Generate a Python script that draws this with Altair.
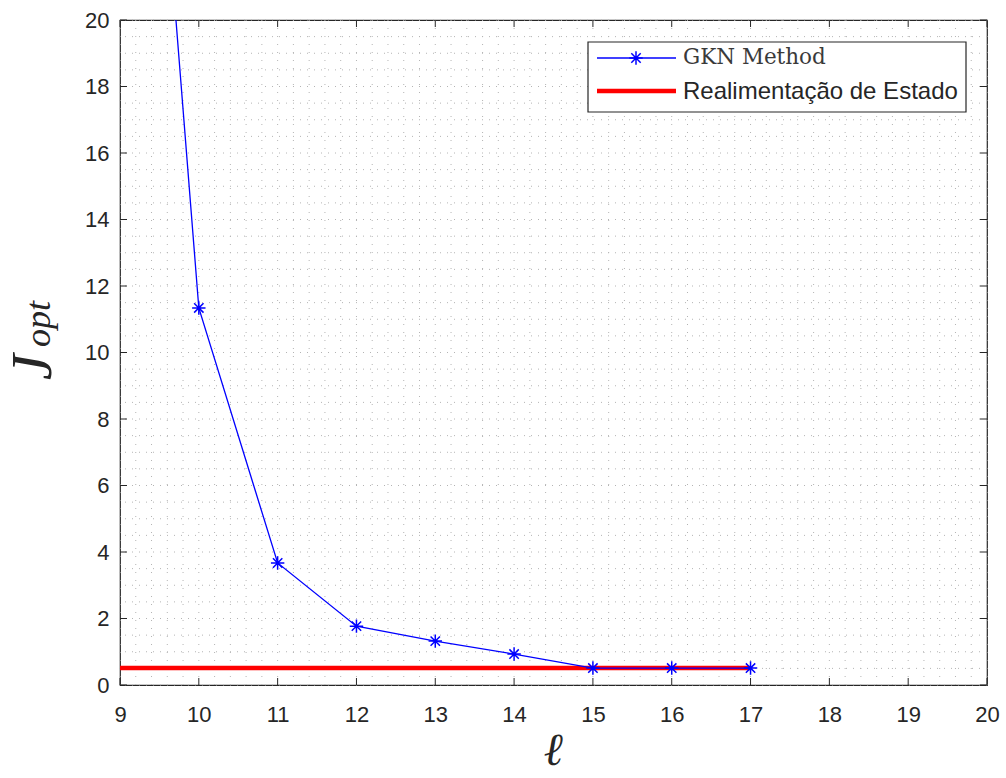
import altair as alt
import numpy as np
import pandas as pd

# ---- data ----
ell = [9, 10, 11, 12, 13, 14, 15, 16, 17]
j_opt = [41.2, 11.34, 3.67, 1.77, 1.32, 0.93, 0.51, 0.51, 0.51]
sf_x = [9, 17]
sf_y = [0.51, 0.51]
x_ticks = list(range(9, 21))
y_ticks = list(range(0, 21, 2))
x_grid = [round(v, 2) for v in np.arange(9, 20.0001, 0.2)]
y_grid = [round(v, 2) for v in np.arange(0, 20.0001, 0.5)]
legend_labels = ["GKN Method", "Realimentação de Estado"]

W, H = 867, 665
TXT = "#262626"
GRID = "#b4b4b4"
xs = alt.Scale(domain=[9, 20], nice=False, zero=False)
ys = alt.Scale(domain=[0, 20], nice=False, zero=False)

x_axis = alt.Axis(values=x_ticks, title=None, grid=False, ticks=False, domain=False,
                  labelFont="Liberation Sans", labelFontSize=22, labelColor=TXT,
                  labelPadding=19, labelFlush=False)
y_axis = alt.Axis(values=y_ticks, title=None, grid=False, ticks=False, domain=False,
                  labelFont="Liberation Sans", labelFontSize=22, labelColor=TXT,
                  labelPadding=11)


def X(field="x"):
    return alt.X(f"{field}:Q", scale=xs, axis=x_axis, title=None)


def Y(field="y"):
    return alt.Y(f"{field}:Q", scale=ys, axis=y_axis, title=None)


gx = pd.DataFrame({"x": x_grid})
gy = pd.DataFrame({"y": y_grid})
grid_v = alt.Chart(gx).mark_rule(color=GRID, strokeWidth=1, strokeDash=[1, 7]).encode(x=X())
grid_h = alt.Chart(gy).mark_rule(color=GRID, strokeWidth=1, strokeDash=[1, 6]).encode(y=Y())

sf = pd.DataFrame({"x": sf_x, "y": sf_y})
red = alt.Chart(sf).mark_line(color="#ff0000", strokeWidth=4.5, clip=True).encode(x=X(), y=Y())

gkn = pd.DataFrame({"x": ell, "y": j_opt})
STAR = "M0,-1L0,1M-1,0L1,0M-0.7,-0.7L0.7,0.7M-0.7,0.7L0.7,-0.7"
blue = alt.Chart(gkn).mark_line(color="#0000ff", strokeWidth=1.3, clip=True).encode(x=X(), y=Y())
pts = alt.Chart(gkn).mark_point(shape=STAR, size=180, filled=False, stroke="#0000ff",
                                strokeWidth=1.5, clip=True, opacity=1).encode(x=X(), y=Y())

tx = pd.DataFrame({"x": x_ticks})
ty = pd.DataFrame({"y": y_ticks})
TL = 7
tick_b = alt.Chart(tx).mark_rule(color=TXT, strokeWidth=1).encode(
    x=X(), y=alt.value(H), y2=alt.value(H - TL))
tick_t = alt.Chart(tx).mark_rule(color=TXT, strokeWidth=1).encode(
    x=X(), y=alt.value(0), y2=alt.value(TL))
tick_l = alt.Chart(ty).mark_rule(color=TXT, strokeWidth=1).encode(
    y=Y(), x=alt.value(0), x2=alt.value(TL))
tick_r = alt.Chart(ty).mark_rule(color=TXT, strokeWidth=1).encode(
    y=Y(), x=alt.value(W), x2=alt.value(W - TL))

one = pd.DataFrame({"a": [0]})
leg_box = alt.Chart(one).mark_rect(fill="white", stroke=TXT, strokeWidth=1.2).encode(
    x=alt.value(468), x2=alt.value(846), y=alt.value(22), y2=alt.value(92))
leg_blue = alt.Chart(one).mark_rule(color="#0000ff", strokeWidth=1.3).encode(
    x=alt.value(477), x2=alt.value(556), y=alt.value(38))
leg_star = alt.Chart(one).mark_point(shape=STAR, size=180, filled=False, stroke="#0000ff",
                                     strokeWidth=1.5, opacity=1).encode(
    x=alt.value(516), y=alt.value(38))
leg_red = alt.Chart(one).mark_rule(color="#ff0000", strokeWidth=4.5).encode(
    x=alt.value(477), x2=alt.value(556), y=alt.value(71))
leg_t1 = alt.Chart(one).mark_text(align="left", baseline="middle", font="DejaVu Serif",
                                  fontSize=21.5, color="#3a3a3a", text=legend_labels[0]).encode(
    x=alt.value(563), y=alt.value(38))
leg_t2 = alt.Chart(one).mark_text(align="left", baseline="middle", font="Liberation Sans",
                                  fontSize=24, color=TXT, text=legend_labels[1]).encode(
    x=alt.value(563), y=alt.value(72))

ytitle_j = alt.Chart(one).mark_text(angle=270, align="center", baseline="middle",
                                    font="Liberation Serif", fontStyle="italic", fontSize=58,
                                    color=TXT, text="J").encode(
    x=alt.value(-86), y=alt.value(347))
ytitle_s = alt.Chart(one).mark_text(angle=270, align="center", baseline="alphabetic",
                                    font="Liberation Serif", fontStyle="italic", fontSize=36,
                                    color=TXT, text="opt").encode(
    x=alt.value(-70), y=alt.value(304))
xtitle = alt.Chart(one).mark_text(align="center", baseline="alphabetic",
                                  font="DejaVu Serif", fontStyle="italic", fontSize=46,
                                  color=TXT, text="ℓ").encode(
    x=alt.value(433), y=alt.value(745))

chart = alt.layer(
    grid_v, grid_h, red, blue, pts,
    tick_b, tick_t, tick_l, tick_r,
    leg_box, leg_blue, leg_star, leg_red, leg_t1, leg_t2,
    ytitle_j, ytitle_s, xtitle,
).properties(
    width=W, height=H,
    autosize=alt.AutoSizeParams(type="none"),
    padding={"left": 120, "top": 20, "right": 19, "bottom": 93},
    background="white",
).configure_view(stroke=TXT, strokeWidth=1.2)

chart.save("out.html", embed_options={"renderer": "svg", "actions": False})
